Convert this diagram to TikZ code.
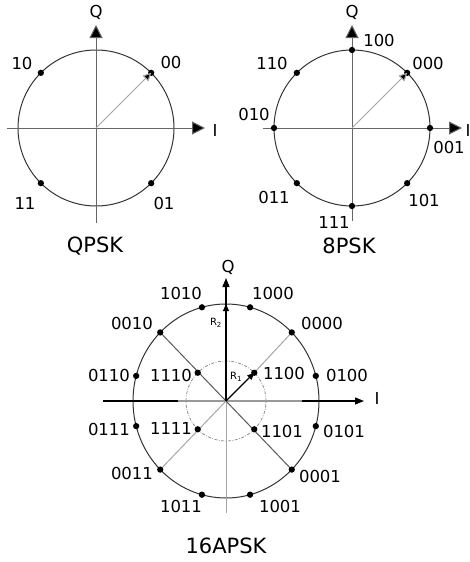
\documentclass[tikz,border=0pt]{standalone}
\usepackage{fontspec}
\setmainfont{DejaVu Sans}
\usetikzlibrary{arrows.meta,calc,backgrounds}
\begin{document}
\begin{tikzpicture}[x=1pt,y=-1pt,
  lbl/.style={font=\fontsize{16.5}{18}\selectfont, inner sep=0pt, text=black},
  ttl/.style={font=\fontsize{21}{24}\selectfont, inner sep=0pt, text=black},
  rlbl/.style={font=\fontsize{10}{11}\selectfont, inner sep=0pt, text=black},
  dot/.style={circle, fill=black, inner sep=0pt, minimum size=6.3pt},
  ring/.style={draw=black!80, line width=1pt},
  bigaxis/.style={draw=black!60, line width=1pt, -{Triangle[length=13pt,width=13pt,fill=black]}},
  pointer/.style={draw=black!35, line width=1pt, -{Triangle[length=8pt,width=8pt,fill=black]}},
  smallaxis/.style={draw=black, line width=1.3pt, -{Triangle[length=9pt,width=7pt,fill=black]}},
  blackline/.style={draw=black, line width=1.3pt},
  greyaxis/.style={draw=black!40, line width=2pt},
  darkspoke/.style={draw=black!65, line width=1pt},
  lightspoke/.style={draw=black!35, line width=1pt},
  rarrow/.style={draw=black, line width=1.1pt, -{Triangle[length=7pt,width=6pt,fill=black]}},
  innerring/.style={draw=black!50, line width=0.7pt, dash pattern=on 3pt off 1.5pt on 0.8pt off 1.5pt}
]
\useasboundingbox (0,0) rectangle (470,562);

% ================= QPSK =================
\coordinate (c1) at (96,128);
\node[dot] (qp00) at ($(c1)+(45:78pt)$) {};
\node[dot] (qp10) at ($(c1)+(135:78pt)$) {};
\node[dot] (qp11) at ($(c1)+(225:78pt)$) {};
\node[dot] (qp01) at ($(c1)+(315:78pt)$) {};
\coordinate (q1l) at (7,128);
\coordinate (q1r) at (205,128);
\coordinate (q1b) at (96,223);
\coordinate (q1t) at (96,25);
\begin{pgfonlayer}{background}
\draw[ring] (c1) circle[radius=78pt];
\draw[bigaxis] (q1l) -- (q1r);
\draw[bigaxis] (q1b) -- (q1t);
\end{pgfonlayer}
\draw[pointer] (c1) -- (qp00.center);
\node[lbl] (q1Q) at (96,12) {Q};
\node[lbl] (q1I) at (215,130) {I};
\node[lbl] (ql10) at (22,63) {10};
\node[lbl] (ql00) at (171,62) {00};
\node[lbl] (ql11) at (25,203) {11};
\node[lbl] (ql01) at (164,203) {01};
\node[ttl] (qt) at (95,246) {QPSK};

% ================= 8PSK =================
\coordinate (c2) at (352,128);
\node[dot] (ep001) at ($(c2)+(0:78pt)$) {};
\node[dot] (ep000) at ($(c2)+(45:78pt)$) {};
\node[dot] (ep100) at ($(c2)+(90:78pt)$) {};
\node[dot] (ep110) at ($(c2)+(135:78pt)$) {};
\node[dot] (ep010) at ($(c2)+(180:78pt)$) {};
\node[dot] (ep011) at ($(c2)+(225:78pt)$) {};
\node[dot] (ep111) at ($(c2)+(270:78pt)$) {};
\node[dot] (ep101) at ($(c2)+(315:78pt)$) {};
\coordinate (e1l) at (263,128);
\coordinate (e1r) at (462,128);
\coordinate (e1b) at (352,221);
\coordinate (e1t) at (352,25);
\begin{pgfonlayer}{background}
\draw[ring] (c2) circle[radius=78pt];
\draw[bigaxis] (e1l) -- (e1r);
\draw[bigaxis] (e1b) -- (e1t);
\end{pgfonlayer}
\draw[pointer] (c2) -- (ep000.center);
\node[lbl] (e1Q) at (352,12) {Q};
\node[lbl] (e1I) at (468,130) {I};
\node[lbl] (el100) at (379,40) {100};
\node[lbl] (el110) at (272,63) {110};
\node[lbl] (el000) at (428,63) {000};
\node[lbl] (el010) at (254,114) {010};
\node[lbl] (el001) at (449,147) {001};
\node[lbl] (el011) at (274,197) {011};
\node[lbl] (el101) at (424,200) {101};
\node[lbl] (el111) at (334,222) {111};
\node[ttl] (et) at (349,246) {8PSK};

% ================= 16APSK =================
\coordinate (c3) at (226,401);
% outer points
\node[dot] (o0100) at ($(c3)+(15:93pt and 97pt)$) {};
\node[dot] (o0000) at ($(c3)+(45:93pt and 97pt)$) {};
\node[dot] (o1000) at ($(c3)+(75:93pt and 97pt)$) {};
\node[dot] (o1010) at ($(c3)+(105:93pt and 97pt)$) {};
\node[dot] (o0010) at ($(c3)+(135:93pt and 97pt)$) {};
\node[dot] (o0110) at ($(c3)+(165:93pt and 97pt)$) {};
\node[dot] (o0111) at ($(c3)+(195:93pt and 97pt)$) {};
\node[dot] (o0011) at ($(c3)+(225:93pt and 97pt)$) {};
\node[dot] (o1011) at ($(c3)+(255:93pt and 97pt)$) {};
\node[dot] (o1001) at ($(c3)+(285:93pt and 97pt)$) {};
\node[dot] (o0001) at ($(c3)+(315:93pt and 97pt)$) {};
\node[dot] (o0101) at ($(c3)+(345:93pt and 97pt)$) {};
% inner points
\node[dot] (i1100) at ($(c3)+(45:40pt)$) {};
\node[dot] (i1110) at ($(c3)+(135:40pt)$) {};
\node[dot] (i1111) at ($(c3)+(225:40pt)$) {};
\node[dot] (i1101) at ($(c3)+(315:40pt)$) {};
% axes
\coordinate (hA) at (103,401);
\coordinate (hB) at (178,401);
\coordinate (hC) at (302,401);
\coordinate (hD) at (364,401);
\coordinate (vT) at (226,278);
\coordinate (vB) at (226,513);
\coordinate (r2tip) at ($(c3)+(90:97pt)$);
\begin{pgfonlayer}{background}
\draw[ring] (c3) ellipse[x radius=93pt, y radius=97pt];
\draw[innerring] (c3) circle[radius=40pt];
\draw[greyaxis] (hB) -- (hC);
\draw[blackline] (hA) -- (hB);
\draw[smallaxis] (hC) -- (hD);
\draw[lightspoke] (c3) -- (vB);
\draw[lightspoke] (i1100.center) -- (o0000.center);
\draw[darkspoke] (c3) -- (o0010.center);
\draw[lightspoke] (c3) -- (o0011.center);
\draw[darkspoke] (c3) -- (o0001.center);
\draw[smallaxis] (c3) -- (vT);
\draw[rarrow] (c3) -- (r2tip);
\end{pgfonlayer}
\draw[rarrow] (c3) -- (i1100.center);
\node[lbl] (sQ) at (228,267) {Q};
\node[lbl] (sI) at (377,398) {I};
\node[rlbl] (R2) at (216,323) {R\textsubscript{2}};
\node[rlbl] (R1) at (236,377) {R\textsubscript{1}};
% labels
\node[lbl] (l1010) at (181,293) {1010};
\node[lbl] (l1000) at (273,293) {1000};
\node[lbl] (l0010) at (132,323) {0010};
\node[lbl] (l0000) at (322,323) {0000};
\node[lbl] (l0110) at (109,375) {0110};
\node[lbl] (l1110) at (171,375) {1110};
\node[lbl] (l1100) at (284,373) {1100};
\node[lbl] (l0100) at (347,375) {0100};
\node[lbl] (l0111) at (109,429) {0111};
\node[lbl] (l1111) at (171,428) {1111};
\node[lbl] (l1101) at (282,431) {1101};
\node[lbl] (l0101) at (344,431) {0101};
\node[lbl] (l0011) at (132,473) {0011};
\node[lbl] (l0001) at (320,476) {0001};
\node[lbl] (l1011) at (181,506) {1011};
\node[lbl] (l1001) at (280,506) {1001};
\node[ttl] (st) at (226,546) {16APSK};
\end{tikzpicture}
\end{document}
